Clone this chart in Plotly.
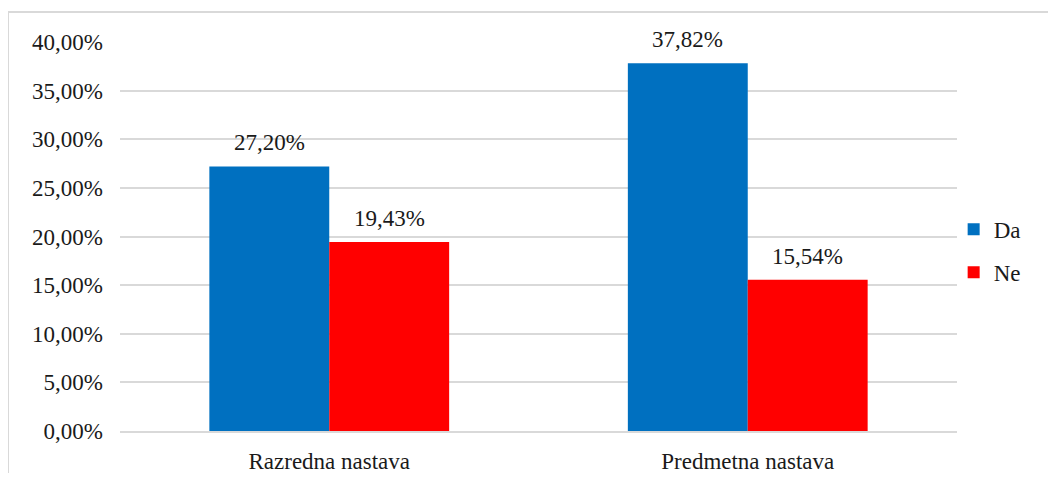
import plotly.graph_objects as go

categories = ["Razredna nastava", "Predmetna nastava"]
series_names = ["Da", "Ne"]
da_values = [0.2720, 0.3782]
ne_values = [0.1943, 0.1554]
colors = ["#0070C0", "#FF0000"]
y_ticks = [0, 0.05, 0.10, 0.15, 0.20, 0.25, 0.30, 0.35, 0.40]

FONT = "Times New Roman, Liberation Serif, DejaVu Serif, serif"
FS = 23
TXT = "#1a1a1a"

def fmt(v):
    return f"{v*100:.2f}%".replace(".", ",")

fig = go.Figure()
for name, vals, col in zip(series_names, [da_values, ne_values], colors):
    fig.add_trace(go.Bar(name=name, x=categories, y=vals, marker_color=col,
                         marker_line_width=0, legendgroup=name))

annotations = []
for vals, shift in zip([da_values, ne_values], [-60, 60]):
    for c, v in zip(categories, vals):
        annotations.append(dict(x=c, y=v, text=fmt(v), showarrow=False,
                                xshift=shift, yshift=9, yanchor="bottom",
                                font=dict(family=FONT, size=FS, color=TXT)))

fig.update_layout(
    width=1040, height=465,
    margin=dict(l=112, r=91, t=34, b=42, autoexpand=False),
    paper_bgcolor="white", plot_bgcolor="white",
    separators=",.",
    barmode="group", bargap=0.427, bargroupgap=0,
    font=dict(family=FONT, size=FS, color=TXT),
    showlegend=True,
    legend=dict(x=0.996, y=0.463, yanchor="middle", xanchor="left",
                font=dict(family=FONT, size=FS, color=TXT),
                tracegroupgap=10, itemwidth=30, bgcolor="rgba(0,0,0,0)"),
    annotations=annotations,
    shapes=[dict(type="rect", xref="paper", yref="paper",
                 x0=-0.1338, x1=1.3, y0=-0.3, y1=1.0771,
                 line=dict(color="#d9d9d9", width=2), layer="below")],
)
fig.update_yaxes(range=[0, 0.40], tickvals=y_ticks, tickformat=".2%",
                 showgrid=True, gridcolor="#d9d9d9", gridwidth=1.5,
                 zeroline=False, showline=False, ticks="",
                 ticklabelstandoff=16, automargin=False,
                 tickfont=dict(family=FONT, size=FS, color=TXT))
fig.update_xaxes(showline=True, linecolor="#d9d9d9", linewidth=1.5,
                 ticks="", ticklabelstandoff=9, automargin=False,
                 tickfont=dict(family=FONT, size=FS, color=TXT))

fig.write_html("out.html")
